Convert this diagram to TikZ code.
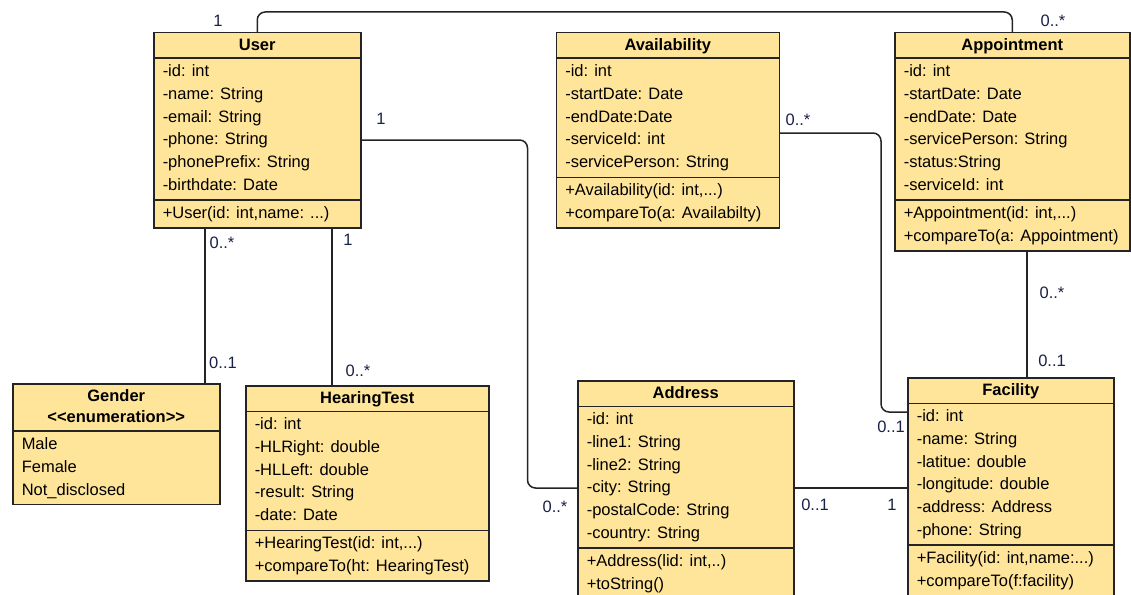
\documentclass[tikz,border=0pt]{standalone}
\usepackage{fontspec}
\setmainfont{Liberation Sans}
\usetikzlibrary{positioning, shapes.multipart}
\definecolor{classfill}{RGB}{255,229,153}
\definecolor{classline}{RGB}{36,36,36}
\definecolor{multtext}{RGB}{26,32,72}
\newcommand{\titlestrut}{\rule[-5pt]{0pt}{20pt}}

\begin{document}
\begin{tikzpicture}[x=1pt, y=-1pt,
    class/.style={draw=classline, line width=1.5pt, fill=classfill, rectangle split, rectangle split parts=3,
        rectangle split part align={center,left,left}, align=left, inner xsep=9pt, inner ysep=2pt,
        font=\fontsize{16.5}{22.7}\selectfont, anchor=north west},
    enum/.style={class, rectangle split parts=2, rectangle split part align={center,left}},
    assoc/.style={draw=classline, line width=1.5pt, rounded corners=8pt},
    mult/.style={text=multtext, font=\fontsize{16.5}{20}\selectfont, inner sep=0pt}]
    \useasboundingbox (0,0) rectangle (1131,594);

    \node[class, minimum width=207pt] (user) at (153,32) {\titlestrut\textbf{User}
        \nodepart{two}\strut -id: int\\ -name: String\\ -email: String\\ -phone: String\\ -phonePrefix: String\\ \strut -birthdate: Date
        \nodepart{three}\strut +User(id: int,name: ...)};
    \node[class, minimum width=223pt, right=194pt of user.north east, anchor=north west] (availability) {\titlestrut\textbf{Availability}
        \nodepart{two}\strut -id: int\\ -startDate: Date\\ -endDate:Date\\ -serviceId: int\\ \strut -servicePerson: String
        \nodepart{three}\strut +Availability(id: int,...)\\ \strut +compareTo(a: Availabilty)};
    \node[class, minimum width=235pt, right=114pt of availability.north east, anchor=north west] (appointment) {\titlestrut\textbf{Appointment}
        \nodepart{two}\strut -id: int\\ -startDate: Date\\ -endDate: Date\\ -servicePerson: String\\ -status:String\\ \strut -serviceId: int
        \nodepart{three}\strut +Appointment(id: int,...)\\ \strut +compareTo(a: Appointment)};

    \node[enum, minimum width=207pt] (gender) at (12,383) {\def\arraystretch{0.92}\begin{tabular}{@{}c@{}}\textbf{Gender}\\ \textbf{<{}<enumeration>{}>}\end{tabular}
        \nodepart{two}\strut Male\\ Female\\ \strut Not\_disclosed};
    \node[class, minimum width=243pt] (hearingtest) at (245,385) {\titlestrut\textbf{HearingTest}
        \nodepart{two}\strut -id: int\\ -HLRight: double\\ -HLLeft: double\\ -result: String\\ \strut -date: Date
        \nodepart{three}\strut +HearingTest(id: int,...)\\ \strut +compareTo(ht: HearingTest)};
    \node[class, minimum width=216pt] (address) at (577,380) {\titlestrut\textbf{Address}
        \nodepart{two}\strut -id: int\\ -line1: String\\ -line2: String\\ -city: String\\ -postalCode: String\\ \strut -country: String
        \nodepart{three}\strut +Address(lid: int,..)\\ \strut +toString()};
    \node[class, minimum width=206pt] (facility) at (907,377) {\titlestrut\textbf{Facility}
        \nodepart{two}\strut -id: int\\ -name: String\\ -latitue: double\\ -longitude: double\\ -address: Address\\ \strut -phone: String
        \nodepart{three}\strut +Facility(id: int,name:...)\\ \strut +compareTo(f:facility)};

    % associations
    \draw[assoc] (user.north) -- ++(0,-20) -| (appointment.north);
    \draw[assoc] ([yshift=-108pt]user.north east) -- ++(166,0) |- ([yshift=-108pt]address.north west);
    \draw[assoc] ([xshift=52pt]user.south west) -- ([xshift=52pt]user.south west |- gender.north);
    \draw[assoc] ([xshift=179pt]user.south west) -- ([xshift=179pt]user.south west |- hearingtest.north);
    \draw[assoc] ([yshift=-101pt]availability.north east) -- ++(101,0) |- ([yshift=-35pt]facility.north west);
    \draw[assoc] ([xshift=133pt]appointment.south west) -- ([xshift=133pt]appointment.south west |- facility.north);
    \draw[assoc] ([yshift=-108pt]address.north east) -- ([yshift=-108pt]address.north east -| facility.west);

    % multiplicities
    \node[mult] (mUserAppt) at (218,21) {1};
    \node[mult] (mApptUser) at (1053,21) {0..*};
    \node[mult] (mUserAddr) at (381,119) {1};
    \node[mult] (mAddrUser) at (555,507) {0..*};
    \node[mult] (mUserGender) at (222,243) {0..*};
    \node[mult] (mGenderUser) at (223,363) {0..1};
    \node[mult] (mUserTest) at (348,240) {1};
    \node[mult] (mTestUser) at (358,371) {0..*};
    \node[mult] (mAvailFac) at (798,120) {0..*};
    \node[mult] (mFacAvail) at (891,427) {0..1};
    \node[mult] (mApptFac) at (1052,293) {0..*};
    \node[mult] (mFacAppt) at (1052,361) {0..1};
    \node[mult] (mAddrFac) at (815,505) {0..1};
    \node[mult] (mFacAddr) at (892,505) {1};
\end{tikzpicture}
\end{document}
